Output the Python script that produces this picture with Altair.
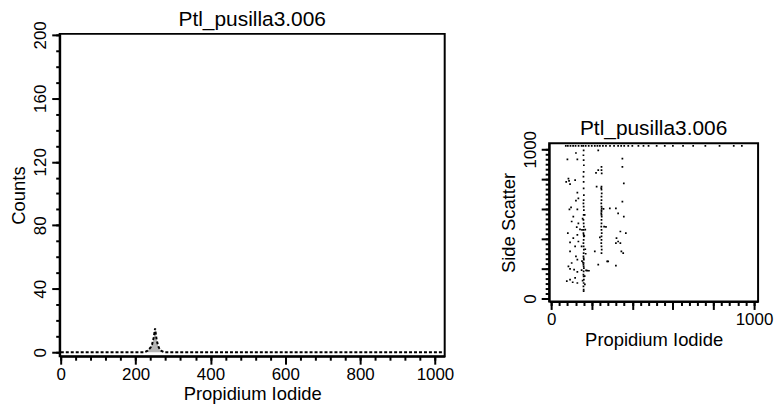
import altair as alt
import pandas as pd

chart_title = "Ptl_pusilla3.006"
x_title = "Propidium Iodide"
hist_y_title = "Counts"
scatter_y_title = "Side Scatter"

# Histogram (Propidium Iodide channel vs counts)
hist_x = [0, 224, 232, 236, 240, 244, 248, 252, 256, 260, 264, 268, 276, 1023]
hist_y = [0, 0, 1, 2, 3, 5, 9, 15, 8, 4, 2, 1, 0, 0]

# Scatter: saturated top row
top_row_x = [72, 82, 95, 108, 120, 135, 150, 158, 170, 185, 200, 215, 228, 240, 255, 270,
             290, 310, 330, 345, 360, 380, 400, 430, 455, 480, 520, 560, 600, 650, 700,
             760, 830, 900, 940]
top_row_y = [1023] * len(top_row_x)

# Scattered events left of the main column
left_x = [80, 122, 129, 74, 85, 93, 88, 118, 129, 134, 122, 98, 90, 129, 109, 101, 134, 126,
          142, 129, 82, 109, 93, 134, 118, 93, 122, 129, 101, 85, 93, 113, 129, 77, 93, 106,
          118, 129]
left_y = [933, 975, 933, 782, 804, 767, 789, 793, 709, 671, 656, 611, 598, 598, 549, 516, 504,
          478, 464, 427, 438, 404, 376, 382, 349, 316, 282, 260, 238, 216, 198, 193, 178, 116,
          127, 109, 138, 104]

# Main column
col1_x = [160, 159, 160, 161, 160, 159, 160, 160, 161, 160, 159, 160, 161, 160, 159, 160, 161,
          160, 159, 160, 161, 160, 159, 160, 161, 160, 159, 160, 161, 160, 159, 160, 161, 160,
          159, 160, 161, 160, 159, 160, 160,
          152, 168, 150, 172, 165, 155, 170, 150, 163, 157, 166, 178, 186, 155, 165, 152, 168]
col1_y = [993, 960, 927, 893, 849, 816, 782, 738, 693, 660, 638, 616, 593, 560, 527, 504, 482,
          460, 438, 427, 416, 393, 371, 349, 327, 304, 282, 271, 260, 238, 227, 216, 204, 182,
          160, 149, 127, 104, 82, 60, 49,
          460, 462, 190, 188, 150, 120, 300, 350, 420, 240, 95, 187, 186, 535, 560, 250, 330]

# Second column
col2_x = [248, 248, 249, 248, 247, 248, 249, 248, 248, 247, 248, 249, 248, 248, 247, 248, 249,
          248, 248, 247, 248, 249, 248, 248, 247, 248, 249, 248,
          224, 221, 232, 261, 270, 215, 232, 240, 289, 276, 232, 258]
col2_y = [882, 860, 838, 749, 740, 729, 704, 682, 660, 638, 616, 604, 593, 582, 571, 560, 549,
          527, 504, 482, 460, 438, 416, 393, 371, 349, 327, 304,
          749, 842, 860, 482, 480, 316, 227, 410, 604, 249, 993, 600]

# Third sparse group
col3_x = [351, 351, 358, 351, 319, 330, 358, 341, 368, 322, 330, 341, 319, 346, 355, 319, 281]
col3_y = [938, 882, 771, 649, 604, 571, 549, 449, 438, 404, 382, 371, 371, 316, 304, 220, 249]

# Axis tick positions
hist_x_major = [0, 200, 400, 600, 800, 1000]
hist_x_minor = [i * 40 for i in range(26)]
hist_y_major = [0, 40, 80, 120, 160, 200]
hist_y_minor = [i * 10 for i in range(21)]
sc_x_major = [0, 200, 400, 600, 800, 1000]
sc_x_minor = [i * 40 for i in range(26)]
sc_y_major = [0, 200, 400, 600, 800, 1000]
sc_y_minor = [round(i * 1000 / 30, 3) for i in range(31)]
sc_labels = "datum.value === 0 || datum.value === 1000 ? datum.label : ''"

FONT = "Liberation Sans"
LABEL_SIZE = 17
TITLE_SIZE = 18.5
CHART_TITLE_SIZE = 21

hist_df = pd.DataFrame({"pi": hist_x, "count": hist_y})
sc_df = pd.DataFrame({
    "pi": top_row_x + left_x + col1_x + col2_x + col3_x,
    "ssc": top_row_y + left_y + col1_y + col2_y + col3_y,
})


def major_axis(values, title, orient, label_angle=0, label_expr=None):
    kw = dict(
        values=values,
        orient=orient,
        format="d",
        tickSize=8,
        tickWidth=2,
        tickColor="black",
        domainColor="black",
        domainWidth=2,
        grid=False,
        labelFont=FONT,
        labelFontSize=LABEL_SIZE,
        labelColor="black",
        labelAngle=label_angle,
        labelFlush=False,
        labelOverlap=False,
        labelPadding=2,
        title=title,
        titleFont=FONT,
        titleFontSize=TITLE_SIZE,
        titleFontWeight="normal",
        titleColor="black",
        titlePadding=3,
    )
    if label_expr:
        kw["labelExpr"] = label_expr
    return alt.Axis(**kw)


def minor_axis(values, orient):
    return alt.Axis(
        values=values,
        orient=orient,
        tickSize=4,
        tickWidth=2,
        tickColor="black",
        domain=False,
        grid=False,
        labels=False,
        title="",
    )


title_params = alt.TitleParams(chart_title, font=FONT, fontSize=CHART_TITLE_SIZE,
                               fontWeight="normal", color="black", offset=-9, frame="group")

hx_scale = alt.Scale(domain=[-3, 1026], nice=False, zero=False)
hy_scale = alt.Scale(domain=[-2.5, 200.6], nice=False, zero=False)

base_h = alt.Chart(hist_df)
hist_area = base_h.mark_area(color="#b5b5b5", clip=True).encode(
    x=alt.X("pi:Q", scale=hx_scale, axis=major_axis(hist_x_major, x_title, "bottom")),
    y=alt.Y("count:Q", scale=hy_scale, axis=major_axis(hist_y_major, hist_y_title, "left", -90)),
)
hist_line = base_h.mark_line(color="black", strokeWidth=2, strokeDash=[3, 2], clip=True).encode(
    x=alt.X("pi:Q", scale=hx_scale, axis=minor_axis(hist_x_minor, "bottom")),
    y=alt.Y("count:Q", scale=hy_scale, axis=minor_axis(hist_y_minor, "left")),
)
left = alt.layer(hist_area, hist_line).resolve_axis(x="independent", y="independent").properties(
    width=387, height=324, title=title_params,
    view=alt.ViewBackground(stroke="black", strokeWidth=2),
)

sx_scale = alt.Scale(domain=[-10, 1020], nice=False, zero=False)
sy_scale = alt.Scale(domain=[-20, 1040], nice=False, zero=False)
base_s = alt.Chart(sc_df)
scatter_pts = base_s.mark_square(size=3, color="black", opacity=1, clip=True).encode(
    x=alt.X("pi:Q", scale=sx_scale,
            axis=major_axis(sc_x_major, x_title, "bottom", 0, sc_labels)),
    y=alt.Y("ssc:Q", scale=sy_scale,
            axis=major_axis(sc_y_major, scatter_y_title, "left", -90, sc_labels)),
)
scatter_minor = base_s.mark_square(size=3, color="black", opacity=0, clip=True).encode(
    x=alt.X("pi:Q", scale=sx_scale, axis=minor_axis(sc_x_minor, "bottom")),
    y=alt.Y("ssc:Q", scale=sy_scale, axis=minor_axis(sc_y_minor, "left")),
)
scatter = alt.layer(scatter_pts, scatter_minor).resolve_axis(
    x="independent", y="independent"
).properties(
    width=210, height=159, title=title_params,
    view=alt.ViewBackground(stroke="black", strokeWidth=2),
)

spacer = alt.Chart(pd.DataFrame({"v": [0]})).mark_point(opacity=0).properties(
    width=210, height=83, view=alt.ViewBackground(stroke="transparent")
)

right = alt.vconcat(spacer, scatter, spacing=0)

chart = alt.hconcat(left, right, spacing=42).properties(
    padding={"left": 9, "top": 6, "right": 0, "bottom": 0},
    background="white",
)

chart.save("out.html", embed_options={"renderer": "svg", "actions": False})
